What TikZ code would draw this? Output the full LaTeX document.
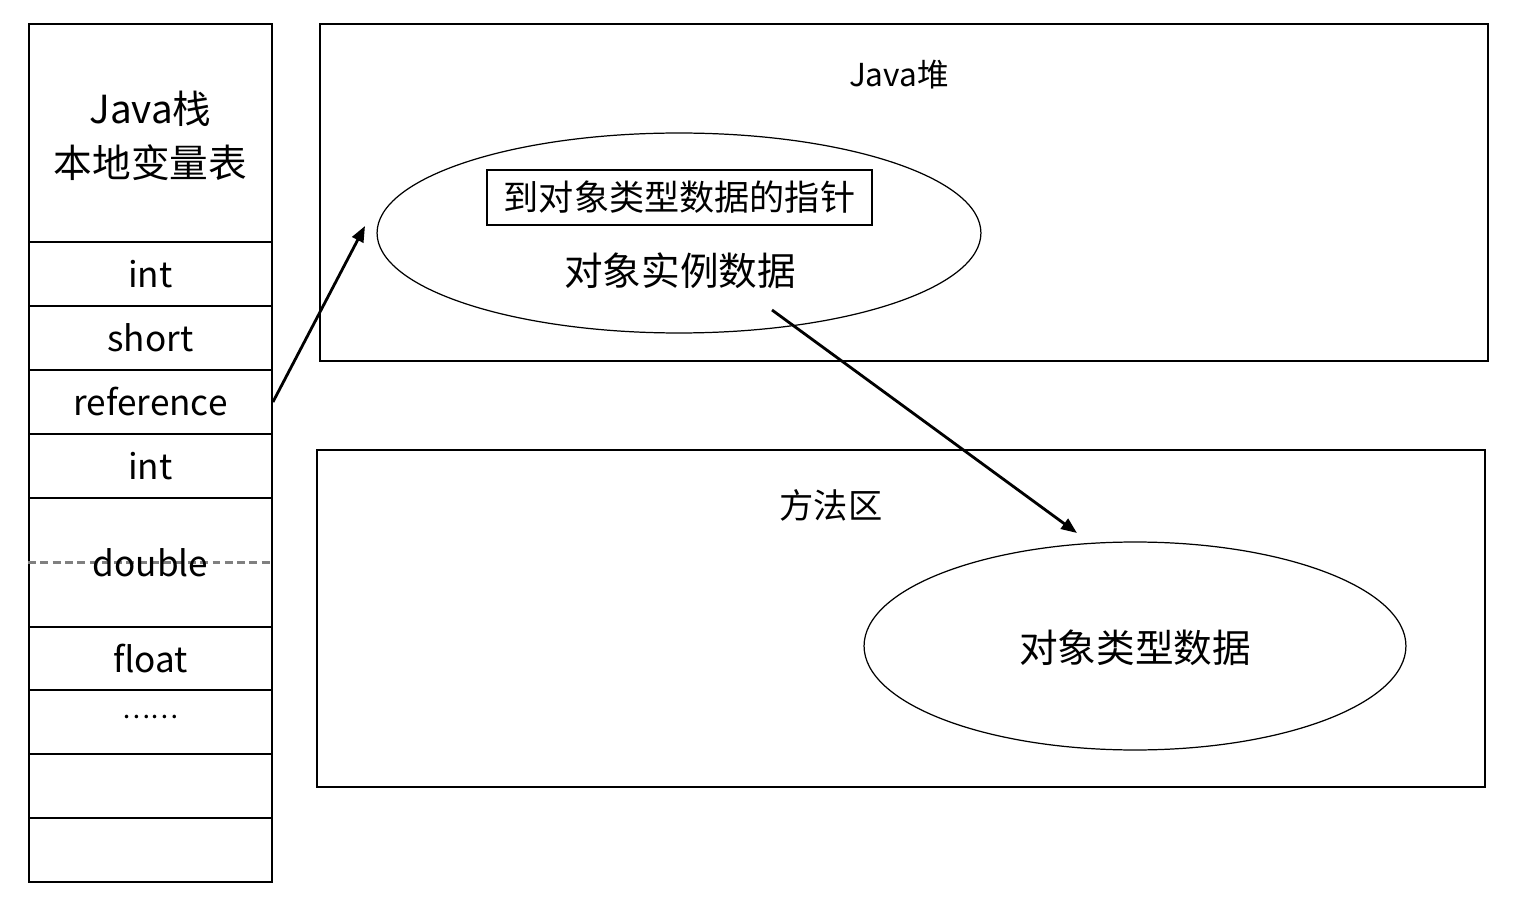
\documentclass[tikz,border=0pt]{standalone}
\usepackage{fontspec}
\setmainfont{Noto Sans CJK SC}
\usetikzlibrary{shapes.geometric,arrows.meta}
\begin{document}
\begin{tikzpicture}[x=0.02cm,y=-0.02cm,
  cell/.style={draw,line width=1.1pt,minimum width=4.86cm,minimum height=1.28cm,inner sep=0pt,font=\fontsize{20}{22}\selectfont},
  area/.style={draw,line width=1.1pt,minimum width=23.36cm,minimum height=6.74cm,inner sep=0pt},
  blob/.style={draw,ellipse,line width=0.7pt,inner sep=0pt},
  ptr/.style={-{Triangle[length=9pt,width=7pt]},line width=1.6pt}]
\useasboundingbox (0,0) rectangle (1526,912);

% local variable table of the Java stack
\node[cell,minimum height=4.36cm] (head) at (150.5,133) {};
\node[align=center,font=\fontsize{22}{31}\selectfont] (headtxt) at (150.5,136) {Java栈\\本地变量表};
\node[cell] (c1) at (150.5,274) {int};
\node[cell] (c2) at (150.5,338) {short};
\node[cell] (c3) at (150.5,402) {reference};
\node[cell] (c4) at (150.5,466) {int};
\node[cell,minimum height=2.58cm] (c5) at (150.5,562.5) {};
\node[cell] (c6) at (150.5,658.5) {float};
\node[cell] (c7) at (150.5,722) {};
\node[cell] (c8) at (150.5,786) {};
\node[cell] (c9) at (150.5,850) {};
\draw[black!50,line width=1.2pt,dash pattern=on 4.5pt off 2.5pt] (c5.west) -- (c5.east);
\node[font=\fontsize{20}{22}\selectfont] (dbl) at (150.5,563) {double};
\node[font=\fontsize{15}{18}\selectfont] (dots) at (150.5,717) {……};

% Java heap
\node[area] (heap) at (904,192.5) {};
\node[font=\fontsize{18}{20}\selectfont] (heaplbl) at (899,75) {Java堆};
\node[blob,minimum width=12.08cm,minimum height=4cm] (inst) at (679,233) {};
\node[draw,line width=1pt,minimum width=7.7cm,minimum height=1.1cm,inner sep=0pt,font=\fontsize{20}{22}\selectfont] (ptrbox) at (679.5,197.5) {到对象类型数据的指针};
\node[font=\fontsize{22}{26}\selectfont] (instlbl) at (680,271) {对象实例数据};

% method area
\node[area] (meth) at (901,618.5) {};
\node[font=\fontsize{19.5}{22}\selectfont] (methlbl) at (831,505) {方法区};
\node[blob,minimum width=10.84cm,minimum height=4.16cm] (type) at (1135,646) {};
\node[font=\fontsize{22}{26}\selectfont] (typelbl) at (1135,648) {对象类型数据};

% references
\coordinate (refend) at (365,226);
\coordinate (instout) at (772,310);
\coordinate (typein) at (1077,533);
\draw[ptr] (c3.east) -- (refend);
\draw[ptr] (instout) -- (typein);
\end{tikzpicture}
\end{document}
